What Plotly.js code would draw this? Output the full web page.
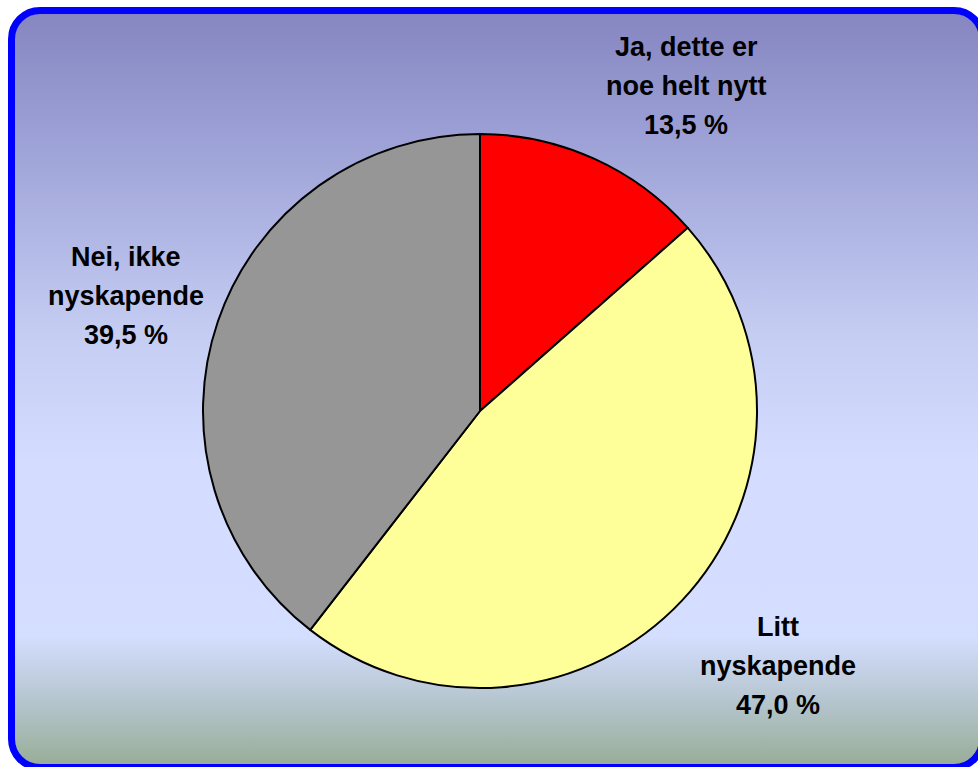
<!DOCTYPE html>
<html>
<head>
<meta charset="utf-8">
<script src="https://cdn.plot.ly/plotly-3.0.1.min.js"></script>
<style>
  html, body { margin: 0; padding: 0; width: 978px; height: 767px; overflow: hidden; background: #ffffff; }
  #frame {
    position: absolute; left: 8px; top: 7px; width: 978px; height: 764px;
    box-sizing: border-box; border: 7px solid #0000ff; border-radius: 32px;
    background: linear-gradient(to bottom, #8686c0 0%, #9a9ed4 15%, #c4ccf2 42%, #d4ddff 60%, #d4deff 83%, #b4c4cc 92%, #98ae98 100%);
  }
  #chart { position: absolute; left: 0; top: 0; width: 978px; height: 767px; }
</style>
</head>
<body>
<div id="frame"></div>
<div id="chart"></div>
<script>
// Data
var categories = ["Ja, dette er noe helt nytt", "Litt nyskapende", "Nei, ikke nyskapende"];
var labelLines = [["Ja, dette er", "noe helt nytt"], ["Litt", "nyskapende"], ["Nei, ikke", "nyskapende"]];
var values = [13.5, 47.0, 39.5];
var colors = ["#ff0000", "#ffff99", "#969696"];

// Label placement (layout, pixels)
var W = 978, H = 767;
var labelCenters = [[686, 86], [778, 666], [126, 296]];
var lineGap = 39;

function fmtPct(v) { return v.toFixed(1).replace(".", ",") + " %"; }

var annotations = [];
categories.forEach(function (c, i) {
  var lines = labelLines[i].concat([fmtPct(values[i])]);
  var n = lines.length;
  lines.forEach(function (t, j) {
    var py = labelCenters[i][1] + (j - (n - 1) / 2) * lineGap;
    annotations.push({
      xref: "paper", yref: "paper",
      x: labelCenters[i][0] / W, y: 1 - py / H,
      xanchor: "center", yanchor: "middle",
      text: t, showarrow: false,
      font: { family: "Liberation Sans, Arial, sans-serif", size: 27, color: "#000000", weight: "bold" }
    });
  });
});

var cx = 480, cy = 411, r = 277;
var trace = {
  type: "pie",
  labels: categories,
  values: values,
  sort: false,
  direction: "clockwise",
  rotation: 0,
  textinfo: "none",
  hoverinfo: "label+percent",
  marker: { colors: colors, line: { color: "#000000", width: 2 } },
  domain: { x: [(cx - r) / W, (cx + r) / W], y: [1 - (cy + r) / H, 1 - (cy - r) / H] },
  showlegend: false
};

var layout = {
  width: W, height: H,
  margin: { l: 0, r: 0, t: 0, b: 0 },
  paper_bgcolor: "rgba(0,0,0,0)",
  plot_bgcolor: "rgba(0,0,0,0)",
  showlegend: false,
  annotations: annotations
};

Plotly.newPlot("chart", [trace], layout, { displayModeBar: false, staticPlot: true });
</script>
</body>
</html>
